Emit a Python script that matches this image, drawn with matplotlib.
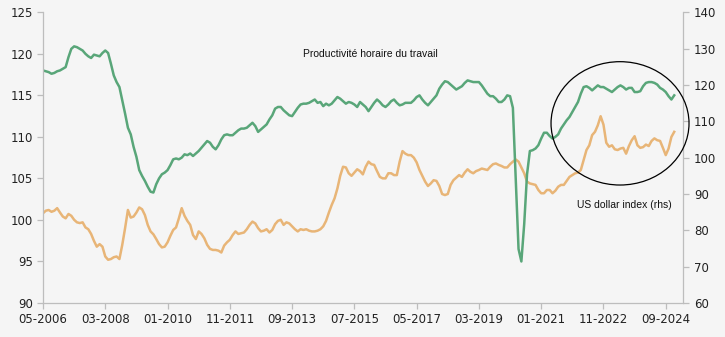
import matplotlib
matplotlib.use("Agg")
import matplotlib.pyplot as plt
from matplotlib.patches import Ellipse
import numpy as np

# Monthly data, 2006-05 .. 2024-12
productivity = [
    118.0, 117.9, 117.8, 117.6, 117.7, 117.9, 118.0, 118.2, 118.4, 119.6,
    120.6, 120.9, 120.8, 120.6, 120.4, 120.0, 119.7, 119.5, 119.9, 119.8,
    119.7, 120.1, 120.4, 120.1, 118.8, 117.4, 116.6, 116.0, 114.4, 112.8,
    111.1, 110.3, 108.8, 107.6, 106.0, 105.3, 104.7, 104.0, 103.4, 103.3,
    104.3, 105.0, 105.5, 105.7, 106.0, 106.6, 107.3, 107.4, 107.3, 107.5,
    107.9, 107.8, 108.0, 107.7, 108.0, 108.3, 108.7, 109.1, 109.5, 109.3,
    108.8, 108.5, 109.0, 109.7, 110.2, 110.3, 110.2, 110.2, 110.5, 110.8,
    111.0, 111.0, 111.1, 111.4, 111.7, 111.3, 110.6, 110.9, 111.2, 111.5,
    112.1, 112.6, 113.4, 113.6, 113.6, 113.2, 112.9, 112.6, 112.5, 113.0,
    113.5, 113.9, 114.0, 114.0, 114.1, 114.3, 114.5, 114.1, 114.2, 113.7,
    114.0, 113.8, 114.0, 114.4, 114.8, 114.6, 114.3, 114.0, 114.2, 114.1,
    113.9, 113.6, 114.2, 113.9, 113.6, 113.1, 113.6, 114.1, 114.5, 114.2,
    113.8, 113.6, 113.9, 114.3, 114.5, 114.1, 113.8, 113.9, 114.1, 114.1,
    114.1, 114.4, 114.8, 115.0, 114.5, 114.1, 113.8, 114.2, 114.6, 115.0,
    115.8, 116.3, 116.7, 116.6, 116.3, 116.0, 115.7, 115.9, 116.1, 116.5,
    116.8, 116.7, 116.6, 116.6, 116.6, 116.2, 115.7, 115.2, 114.9, 114.9,
    114.6, 114.2, 114.2, 114.5, 115.0, 114.9, 113.5, 105.0, 96.5, 95.0,
    99.5, 105.5, 108.3, 108.4, 108.6, 109.0, 109.8, 110.5, 110.5, 110.1,
    109.8, 110.0, 110.3, 111.0, 111.5, 112.0, 112.4, 113.0, 113.6, 114.2,
    115.2, 116.0, 116.1, 115.9, 115.6, 115.9, 116.2, 116.0, 116.0, 115.8,
    115.6, 115.4, 115.7, 116.0, 116.2, 116.0, 115.7, 115.9, 115.9, 115.4,
    115.4, 115.5, 116.1, 116.5, 116.6, 116.6, 116.5, 116.3, 115.9, 115.7,
    115.4, 114.9, 114.5, 115.0,
]

usd_index = [
    84.7, 85.4, 85.6, 85.1, 85.4, 86.1, 84.9, 83.8, 83.3, 84.5,
    84.0, 82.9, 82.2, 82.0, 82.2, 80.8, 80.3, 79.0, 77.1, 75.5,
    76.2, 75.5, 72.8, 71.9, 72.1, 72.6, 72.8, 72.1, 76.0, 80.6,
    85.6, 83.5, 83.8, 84.9, 86.3, 85.8, 84.2, 81.5, 79.7, 78.9,
    77.6, 76.2, 75.3, 75.5, 76.7, 78.5, 80.1, 80.8, 83.3, 86.1,
    84.0, 82.6, 81.5, 78.7, 77.6, 79.7, 79.0, 77.8, 76.0, 74.9,
    74.6, 74.6, 74.4, 73.9, 75.8, 76.7, 77.4, 78.7, 79.7, 79.0,
    79.2, 79.4, 80.3, 81.5, 82.4, 81.9, 80.6, 79.7, 79.9, 80.3,
    79.4, 80.1, 81.7, 82.6, 82.9, 81.5, 82.2, 81.9, 81.1, 80.3,
    79.7, 80.3, 80.1, 80.3, 79.9, 79.7, 79.7, 79.9, 80.3, 81.1,
    82.6, 84.9, 87.0, 88.8, 91.5, 95.0, 97.5, 97.3, 95.7, 95.0,
    95.9, 96.8, 96.3, 95.4, 97.5, 98.9, 98.2, 98.0, 96.3, 94.7,
    94.3, 94.3, 95.7, 95.7, 95.2, 95.2, 98.9, 101.8, 101.1, 100.7,
    100.7, 100.0, 98.7, 96.6, 95.0, 93.4, 92.2, 92.9, 93.8, 93.6,
    92.2, 90.0, 89.7, 90.0, 92.5, 93.8, 94.5, 95.2, 94.7, 95.9,
    96.8, 96.1, 95.7, 96.3, 96.6, 97.0, 96.8, 96.6, 97.5, 98.2,
    98.4, 98.0, 97.7, 97.3, 97.3, 98.2, 98.9, 99.5, 98.9, 97.3,
    95.7, 93.4, 92.9, 92.7, 92.5, 91.1, 90.2, 90.2, 91.1, 91.1,
    90.2, 90.9, 92.0, 92.5, 92.5, 93.6, 94.7, 95.2, 95.7, 95.9,
    96.6, 99.3, 102.1, 103.4, 106.2, 107.1, 108.9, 111.4, 109.1, 104.1,
    103.0, 103.4, 102.3, 102.1, 102.5, 102.7, 101.1, 103.2, 104.8, 105.9,
    103.4, 102.7, 102.9, 103.6, 103.2, 104.6, 105.3, 104.8, 104.6, 102.7,
    100.7, 102.5, 105.7, 107.1,
]

tick_labels = ["05-2006", "03-2008", "01-2010", "11-2011", "09-2013",
               "07-2015", "05-2017", "03-2019", "01-2021", "11-2022", "09-2024"]

GREEN = "#59a679"
ORANGE = "#e8b577"
BG = "#f5f5f5"
AXC = "#bdbdbd"

fig = plt.figure(figsize=(7.25, 3.37), dpi=100, facecolor=BG)
ax = fig.add_axes([43 / 725, 1 - 303 / 337, 640 / 725, (303 - 12.3) / 337])
ax.set_facecolor(BG)
ax2 = ax.twinx()

x = np.arange(len(productivity))
ax2.plot(np.arange(len(usd_index)), usd_index, color=ORANGE, lw=1.8, solid_joinstyle="round")
ax.plot(x, productivity, color=GREEN, lw=1.8, solid_joinstyle="round")
ax.set_zorder(ax2.get_zorder() + 1)
ax.patch.set_visible(False)
ax2.patch.set_visible(True)
ax2.patch.set_facecolor(BG)

ax.set_xlim(0, 226.1)
ax.set_ylim(90, 125)
ax2.set_ylim(60, 140)
ax.set_yticks(np.arange(90, 126, 5))
ax2.set_yticks(np.arange(60, 141, 10))
ax.set_xticks(np.arange(0, 22 * len(tick_labels), 22))
ax.set_xticklabels(tick_labels)

for a in (ax, ax2):
    a.spines["top"].set_visible(False)
    for s in ("left", "right", "bottom"):
        a.spines[s].set_color(AXC)
        a.spines[s].set_linewidth(0.9)
    a.tick_params(colors=AXC, labelcolor="#222222", labelsize=8.5, length=4, width=0.9)
ax.spines["right"].set_visible(False)
ax2.spines["left"].set_visible(False)
ax2.spines["bottom"].set_visible(False)
ax.tick_params(axis="y", pad=3)
ax.tick_params(axis="x", pad=3)
ax2.tick_params(axis="y", pad=4)

fam = ["Liberation Sans Narrow", "Liberation Sans", "DejaVu Sans"]
ax.text(0.511, 0.855, "Productivité horaire du travail", transform=ax.transAxes,
        ha="center", va="center", fontsize=7.5, family=fam, color="#111111")
ax.text(0.909, 0.338, "US dollar index (rhs)", transform=ax.transAxes,
        ha="center", va="center", fontsize=7.5, family=fam, color="#111111")

ell = Ellipse((0.9016, 0.618), 0.2156, 0.4243, transform=ax.transAxes,
              fill=False, edgecolor="black", lw=0.9, clip_on=False, zorder=10)
ax.add_patch(ell)

fig.savefig("out.png", dpi=100, facecolor=BG)
